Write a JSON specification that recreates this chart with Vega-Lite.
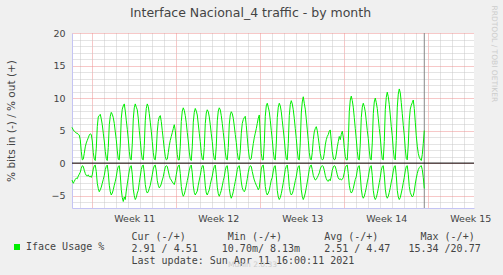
{
"$schema": "https://vega.github.io/schema/vega-lite/v6.json",
"width": 402, "height": 175,
"autosize": "none",
"padding": {"left": 72, "top": 33, "right": 29, "bottom": 67},
"background": "#f0f0f0",
"config": {"view": {"fill": "#ffffff", "stroke": null}, "font": "DejaVu Sans"},
"title": {"text": "Interface Nacional_4 traffic - by month", "font": "DejaVu Sans", "fontSize": 12.5, "fontWeight": "normal", "color": "#444444", "anchor": "middle", "frame": "group", "dx": -22.5, "baseline": "alphabetic", "offset": -24.6},
"datasets": {"traffic": [
{"d":-1.69,"o":5.5,"i":-2.6},{"d":-1.583,"o":5.1,"i":-3.1},{"d":-1.5,"o":4.9,"i":-2.8},{"d":-1.417,"o":4.8,"i":-2.5},{"d":-1.333,"o":4.6,"i":-2.3},{"d":-1.25,"o":4.6,"i":-2.4},{"d":-1.167,"o":4.4,"i":-2.0},{"d":-1.083,"o":4.3,"i":-1.7},
{"d":-1.0,"o":3.6,"i":-1.4},{"d":-0.917,"o":1.8,"i":-0.8},{"d":-0.833,"o":0.5,"i":-0.4},{"d":-0.75,"o":0.6,"i":-0.5},{"d":-0.667,"o":1.5,"i":-1.1},{"d":-0.583,"o":2.5,"i":-1.6},{"d":-0.5,"o":3.1,"i":-1.9},{"d":-0.417,"o":3.5,"i":-2.0},{"d":-0.333,"o":3.9,"i":-1.8},{"d":-0.25,"o":4.3,"i":-2.1},{"d":-0.167,"o":4.5,"i":-2.0},{"d":-0.083,"o":4.4,"i":-2.2},
{"d":0.0,"o":3.4,"i":-1.8},{"d":0.083,"o":1.6,"i":-0.9},{"d":0.167,"o":0.6,"i":-0.4},{"d":0.25,"o":0.4,"i":-0.3},{"d":0.333,"o":2.3,"i":-1.3},{"d":0.417,"o":5.6,"i":-3.1},{"d":0.5,"o":7.1,"i":-3.9},{"d":0.583,"o":7.3,"i":-4.4},{"d":0.667,"o":7.5,"i":-4.1},{"d":0.75,"o":6.8,"i":-3.7},{"d":0.833,"o":5.9,"i":-3.1},{"d":0.917,"o":4.6,"i":-2.5},
{"d":1.0,"o":3.4,"i":-1.9},{"d":1.083,"o":1.8,"i":-1.0},{"d":1.167,"o":0.7,"i":-0.5},{"d":1.25,"o":0.4,"i":-0.3},{"d":1.333,"o":2.4,"i":-1.5},{"d":1.417,"o":5.9,"i":-3.4},{"d":1.5,"o":7.2,"i":-4.4},{"d":1.583,"o":7.8,"i":-4.9},{"d":1.667,"o":7.5,"i":-4.6},{"d":1.75,"o":7.0,"i":-4.1},{"d":1.833,"o":6.1,"i":-3.4},{"d":1.917,"o":4.8,"i":-2.8},
{"d":2.0,"o":3.6,"i":-2.1},{"d":2.083,"o":1.9,"i":-1.1},{"d":2.167,"o":0.6,"i":-0.5},{"d":2.25,"o":0.5,"i":-0.4},{"d":2.333,"o":2.8,"i":-1.8},{"d":2.417,"o":6.9,"i":-4.1},{"d":2.5,"o":8.3,"i":-5.3},{"d":2.583,"o":8.8,"i":-5.9},{"d":2.667,"o":9.1,"i":-5.2},{"d":2.75,"o":8.0,"i":-5.6},{"d":2.833,"o":6.6,"i":-4.3},{"d":2.917,"o":5.2,"i":-3.2},
{"d":3.0,"o":3.7,"i":-2.2},{"d":3.083,"o":1.8,"i":-1.2},{"d":3.167,"o":0.6,"i":-0.5},{"d":3.25,"o":0.5,"i":-0.4},{"d":3.333,"o":2.9,"i":-1.7},{"d":3.417,"o":6.8,"i":-4.0},{"d":3.5,"o":8.5,"i":-5.0},{"d":3.583,"o":9.1,"i":-5.6},{"d":3.667,"o":8.6,"i":-5.3},{"d":3.75,"o":8.2,"i":-4.6},{"d":3.833,"o":6.9,"i":-4.2},{"d":3.917,"o":5.0,"i":-3.0},
{"d":4.0,"o":3.5,"i":-2.0},{"d":4.083,"o":1.7,"i":-1.0},{"d":4.167,"o":0.6,"i":-0.4},{"d":4.25,"o":0.5,"i":-0.3},{"d":4.333,"o":2.7,"i":-1.5},{"d":4.417,"o":6.6,"i":-3.3},{"d":4.5,"o":8.4,"i":-4.2},{"d":4.583,"o":9.1,"i":-4.6},{"d":4.667,"o":8.7,"i":-4.4},{"d":4.75,"o":7.6,"i":-3.9},{"d":4.833,"o":6.3,"i":-3.4},{"d":4.917,"o":4.9,"i":-2.6},
{"d":5.0,"o":3.3,"i":-1.8},{"d":5.083,"o":1.6,"i":-0.9},{"d":5.167,"o":0.6,"i":-0.4},{"d":5.25,"o":0.5,"i":-0.3},{"d":5.333,"o":2.0,"i":-1.2},{"d":5.417,"o":4.9,"i":-2.7},{"d":5.5,"o":6.4,"i":-3.4},{"d":5.583,"o":7.1,"i":-3.8},{"d":5.667,"o":7.3,"i":-3.6},{"d":5.75,"o":6.4,"i":-3.2},{"d":5.833,"o":5.0,"i":-2.6},{"d":5.917,"o":3.6,"i":-2.1},
{"d":6.0,"o":2.2,"i":-1.3},{"d":6.083,"o":1.0,"i":-0.6},{"d":6.167,"o":0.5,"i":-0.4},{"d":6.25,"o":0.6,"i":-0.5},{"d":6.333,"o":1.6,"i":-1.2},{"d":6.417,"o":2.7,"i":-1.9},{"d":6.5,"o":3.5,"i":-2.4},{"d":6.583,"o":4.1,"i":-2.6},{"d":6.667,"o":4.7,"i":-2.9},{"d":6.75,"o":5.3,"i":-3.1},{"d":6.833,"o":5.9,"i":-3.3},{"d":6.917,"o":5.0,"i":-2.7},
{"d":7.0,"o":3.0,"i":-1.8},{"d":7.083,"o":1.3,"i":-0.9},{"d":7.167,"o":0.5,"i":-0.4},{"d":7.25,"o":0.5,"i":-0.3},{"d":7.333,"o":2.6,"i":-1.6},{"d":7.417,"o":6.4,"i":-3.6},{"d":7.5,"o":8.0,"i":-4.6},{"d":7.583,"o":8.5,"i":-5.1},{"d":7.667,"o":8.1,"i":-4.8},{"d":7.75,"o":7.3,"i":-4.2},{"d":7.833,"o":6.2,"i":-3.5},{"d":7.917,"o":4.7,"i":-2.7},
{"d":8.0,"o":3.4,"i":-2.0},{"d":8.083,"o":1.7,"i":-1.1},{"d":8.167,"o":0.6,"i":-0.5},{"d":8.25,"o":0.4,"i":-0.3},{"d":8.333,"o":2.5,"i":-1.5},{"d":8.417,"o":6.3,"i":-3.5},{"d":8.5,"o":7.8,"i":-4.5},{"d":8.583,"o":8.4,"i":-4.9},{"d":8.667,"o":8.0,"i":-4.6},{"d":8.75,"o":7.4,"i":-4.3},{"d":8.833,"o":6.0,"i":-3.4},{"d":8.917,"o":4.6,"i":-2.6},
{"d":9.0,"o":3.3,"i":-1.9},{"d":9.083,"o":1.6,"i":-1.0},{"d":9.167,"o":0.6,"i":-0.4},{"d":9.25,"o":0.5,"i":-0.4},{"d":9.333,"o":2.4,"i":-1.6},{"d":9.417,"o":6.1,"i":-3.5},{"d":9.5,"o":7.7,"i":-4.6},{"d":9.583,"o":8.2,"i":-4.9},{"d":9.667,"o":7.9,"i":-4.5},{"d":9.75,"o":7.1,"i":-4.1},{"d":9.833,"o":5.9,"i":-3.3},{"d":9.917,"o":4.5,"i":-2.6},
{"d":10.0,"o":3.3,"i":-2.0},{"d":10.083,"o":1.6,"i":-1.1},{"d":10.167,"o":0.6,"i":-0.5},{"d":10.25,"o":0.5,"i":-0.3},{"d":10.333,"o":2.6,"i":-1.7},{"d":10.417,"o":6.5,"i":-3.7},{"d":10.5,"o":8.0,"i":-4.7},{"d":10.583,"o":8.5,"i":-5.1},{"d":10.667,"o":8.2,"i":-4.7},{"d":10.75,"o":7.3,"i":-4.2},{"d":10.833,"o":6.1,"i":-3.5},{"d":10.917,"o":4.7,"i":-2.7},
{"d":11.0,"o":3.4,"i":-2.1},{"d":11.083,"o":1.7,"i":-1.1},{"d":11.167,"o":0.6,"i":-0.5},{"d":11.25,"o":0.5,"i":-0.4},{"d":11.333,"o":2.4,"i":-1.7},{"d":11.417,"o":6.0,"i":-3.9},{"d":11.5,"o":7.4,"i":-4.9},{"d":11.583,"o":7.9,"i":-5.4},{"d":11.667,"o":7.6,"i":-5.0},{"d":11.75,"o":6.9,"i":-4.4},{"d":11.833,"o":5.7,"i":-3.6},{"d":11.917,"o":4.4,"i":-2.8},
{"d":12.0,"o":3.2,"i":-2.0},{"d":12.083,"o":1.6,"i":-1.0},{"d":12.167,"o":0.6,"i":-0.5},{"d":12.25,"o":0.5,"i":-0.4},{"d":12.333,"o":1.9,"i":-1.4},{"d":12.417,"o":4.6,"i":-2.9},{"d":12.5,"o":6.1,"i":-3.8},{"d":12.583,"o":6.7,"i":-4.2},{"d":12.667,"o":7.0,"i":-4.4},{"d":12.75,"o":7.2,"i":-4.1},{"d":12.833,"o":5.8,"i":-3.3},{"d":12.917,"o":3.9,"i":-2.4},
{"d":13.0,"o":2.2,"i":-1.4},{"d":13.083,"o":0.9,"i":-0.7},{"d":13.167,"o":0.5,"i":-0.4},{"d":13.25,"o":0.7,"i":-0.5},{"d":13.333,"o":1.9,"i":-1.3},{"d":13.417,"o":3.0,"i":-2.0},{"d":13.5,"o":3.9,"i":-2.6},{"d":13.583,"o":4.6,"i":-3.0},{"d":13.667,"o":5.3,"i":-3.4},{"d":13.75,"o":6.1,"i":-3.7},{"d":13.833,"o":6.9,"i":-4.1},{"d":13.917,"o":7.4,"i":-3.8},
{"d":14.0,"o":4.5,"i":-2.4},{"d":14.083,"o":1.5,"i":-0.9},{"d":14.167,"o":0.5,"i":-0.4},{"d":14.25,"o":0.5,"i":-0.3},{"d":14.333,"o":3.0,"i":-1.7},{"d":14.417,"o":7.2,"i":-3.6},{"d":14.5,"o":8.8,"i":-4.5},{"d":14.583,"o":9.2,"i":-4.9},{"d":14.667,"o":8.6,"i":-4.6},{"d":14.75,"o":7.9,"i":-4.2},{"d":14.833,"o":6.6,"i":-3.4},{"d":14.917,"o":5.0,"i":-2.6},
{"d":15.0,"o":3.6,"i":-2.2},{"d":15.083,"o":1.8,"i":-1.2},{"d":15.167,"o":0.6,"i":-0.5},{"d":15.25,"o":0.5,"i":-0.4},{"d":15.333,"o":2.9,"i":-1.9},{"d":15.417,"o":7.0,"i":-4.2},{"d":15.5,"o":8.6,"i":-5.2},{"d":15.583,"o":9.2,"i":-5.6},{"d":15.667,"o":8.8,"i":-5.3},{"d":15.75,"o":7.9,"i":-4.7},{"d":15.833,"o":6.5,"i":-3.9},{"d":15.917,"o":5.1,"i":-3.0},
{"d":16.0,"o":3.7,"i":-2.0},{"d":16.083,"o":1.9,"i":-1.0},{"d":16.167,"o":0.6,"i":-0.5},{"d":16.25,"o":0.5,"i":-0.3},{"d":16.333,"o":3.0,"i":-1.6},{"d":16.417,"o":7.3,"i":-3.6},{"d":16.5,"o":9.0,"i":-4.5},{"d":16.583,"o":9.6,"i":-4.9},{"d":16.667,"o":9.1,"i":-4.7},{"d":16.75,"o":8.2,"i":-4.2},{"d":16.833,"o":6.9,"i":-3.5},{"d":16.917,"o":5.3,"i":-2.7},
{"d":17.0,"o":3.8,"i":-2.1},{"d":17.083,"o":1.9,"i":-1.1},{"d":17.167,"o":0.6,"i":-0.5},{"d":17.25,"o":0.5,"i":-0.4},{"d":17.333,"o":3.1,"i":-1.9},{"d":17.417,"o":7.7,"i":-4.1},{"d":17.5,"o":9.4,"i":-5.1},{"d":17.583,"o":10.2,"i":-5.6},{"d":17.667,"o":9.2,"i":-5.2},{"d":17.75,"o":8.3,"i":-4.6},{"d":17.833,"o":6.8,"i":-3.8},{"d":17.917,"o":5.1,"i":-2.9},
{"d":18.0,"o":3.5,"i":-2.0},{"d":18.083,"o":1.6,"i":-1.0},{"d":18.167,"o":0.6,"i":-0.4},{"d":18.25,"o":0.5,"i":-0.3},{"d":18.333,"o":1.6,"i":-1.0},{"d":18.417,"o":3.6,"i":-1.9},{"d":18.5,"o":4.8,"i":-2.3},{"d":18.583,"o":5.3,"i":-2.6},{"d":18.667,"o":5.6,"i":-2.5},{"d":18.75,"o":5.0,"i":-2.2},{"d":18.833,"o":3.9,"i":-1.9},{"d":18.917,"o":2.7,"i":-1.5},
{"d":19.0,"o":1.5,"i":-0.9},{"d":19.083,"o":0.7,"i":-0.5},{"d":19.167,"o":0.5,"i":-0.4},{"d":19.25,"o":0.6,"i":-0.5},{"d":19.333,"o":1.5,"i":-1.1},{"d":19.417,"o":2.8,"i":-1.9},{"d":19.5,"o":3.6,"i":-2.4},{"d":19.583,"o":4.1,"i":-2.7},{"d":19.667,"o":4.4,"i":-2.8},{"d":19.75,"o":4.9,"i":-2.5},{"d":19.833,"o":5.1,"i":-2.7},{"d":19.917,"o":3.4,"i":-2.0},
{"d":20.0,"o":1.8,"i":-1.1},{"d":20.083,"o":0.8,"i":-0.6},{"d":20.167,"o":0.5,"i":-0.4},{"d":20.25,"o":0.6,"i":-0.5},{"d":20.333,"o":1.4,"i":-1.1},{"d":20.417,"o":2.5,"i":-1.8},{"d":20.5,"o":3.3,"i":-2.3},{"d":20.583,"o":4.1,"i":-2.5},{"d":20.667,"o":3.6,"i":-2.4},{"d":20.75,"o":4.4,"i":-2.6},{"d":20.833,"o":4.9,"i":-2.5},{"d":20.917,"o":4.0,"i":-2.2},
{"d":21.0,"o":2.4,"i":-1.5},{"d":21.083,"o":1.0,"i":-0.7},{"d":21.167,"o":0.5,"i":-0.4},{"d":21.25,"o":0.5,"i":-0.3},{"d":21.333,"o":3.2,"i":-1.6},{"d":21.417,"o":7.9,"i":-3.4},{"d":21.5,"o":9.7,"i":-4.2},{"d":21.583,"o":10.3,"i":-4.6},{"d":21.667,"o":9.6,"i":-4.4},{"d":21.75,"o":8.6,"i":-3.9},{"d":21.833,"o":7.0,"i":-3.2},{"d":21.917,"o":5.3,"i":-2.5},
{"d":22.0,"o":3.7,"i":-2.1},{"d":22.083,"o":1.8,"i":-1.1},{"d":22.167,"o":0.6,"i":-0.5},{"d":22.25,"o":0.5,"i":-0.4},{"d":22.333,"o":2.9,"i":-1.8},{"d":22.417,"o":7.0,"i":-4.0},{"d":22.5,"o":8.6,"i":-5.0},{"d":22.583,"o":9.2,"i":-5.4},{"d":22.667,"o":8.7,"i":-5.1},{"d":22.75,"o":7.9,"i":-4.5},{"d":22.833,"o":6.5,"i":-3.8},{"d":22.917,"o":5.0,"i":-2.9},
{"d":23.0,"o":3.8,"i":-2.2},{"d":23.083,"o":1.9,"i":-1.2},{"d":23.167,"o":0.6,"i":-0.5},{"d":23.25,"o":0.5,"i":-0.4},{"d":23.333,"o":3.1,"i":-1.9},{"d":23.417,"o":7.6,"i":-4.2},{"d":23.5,"o":9.4,"i":-5.2},{"d":23.583,"o":10.0,"i":-5.6},{"d":23.667,"o":9.3,"i":-5.3},{"d":23.75,"o":8.4,"i":-4.7},{"d":23.833,"o":6.9,"i":-3.9},{"d":23.917,"o":5.3,"i":-3.0},
{"d":24.0,"o":4.0,"i":-2.2},{"d":24.083,"o":2.0,"i":-1.1},{"d":24.167,"o":0.6,"i":-0.5},{"d":24.25,"o":0.5,"i":-0.4},{"d":24.333,"o":3.3,"i":-1.8},{"d":24.417,"o":8.2,"i":-4.0},{"d":24.5,"o":10.1,"i":-5.0},{"d":24.583,"o":10.9,"i":-5.4},{"d":24.667,"o":10.2,"i":-5.1},{"d":24.75,"o":9.0,"i":-4.5},{"d":24.833,"o":7.4,"i":-3.8},{"d":24.917,"o":5.6,"i":-2.9},
{"d":25.0,"o":4.2,"i":-2.2},{"d":25.083,"o":2.1,"i":-1.2},{"d":25.167,"o":0.7,"i":-0.5},{"d":25.25,"o":0.5,"i":-0.4},{"d":25.333,"o":3.5,"i":-1.9},{"d":25.417,"o":8.6,"i":-4.2},{"d":25.5,"o":10.6,"i":-5.2},{"d":25.583,"o":11.4,"i":-5.6},{"d":25.667,"o":10.8,"i":-5.3},{"d":25.75,"o":9.3,"i":-4.6},{"d":25.833,"o":7.6,"i":-3.9},{"d":25.917,"o":5.8,"i":-3.0},
{"d":26.0,"o":4.3,"i":-2.2},{"d":26.083,"o":2.2,"i":-1.2},{"d":26.167,"o":0.7,"i":-0.5},{"d":26.25,"o":0.5,"i":-0.4},{"d":26.333,"o":2.8,"i":-1.7},{"d":26.417,"o":6.6,"i":-3.6},{"d":26.5,"o":8.3,"i":-4.5},{"d":26.583,"o":8.9,"i":-4.9},{"d":26.667,"o":9.3,"i":-5.2},{"d":26.75,"o":9.7,"i":-5.0},{"d":26.833,"o":8.4,"i":-4.3},{"d":26.917,"o":6.3,"i":-3.2},
{"d":27.0,"o":4.2,"i":-2.3},{"d":27.083,"o":2.6,"i":-1.6},{"d":27.167,"o":1.5,"i":-1.0},{"d":27.25,"o":0.9,"i":-0.7},{"d":27.333,"o":0.6,"i":-0.5},{"d":27.417,"o":0.4,"i":-0.4},{"d":27.5,"o":1.3,"i":-1.0},{"d":27.583,"o":3.0,"i":-2.2},{"d":27.667,"o":5.0,"i":-3.9}
]},
"data": {"name": "traffic"},
"resolve": {"axis": {"x": "independent", "y": "independent"}},
"layer": [
{
"data": {"values": [{"now": 27.667}]},
"mark": {"type": "rule", "color": "#888888", "strokeWidth": 1},
"encoding": {"x": {"field": "now", "type": "quantitative", "scale": {"domain": [-1.69, 31.81], "nice": false, "zero": false}, "axis": null}}
},
{
"mark": {"type": "line", "strokeWidth": 1, "interpolate": "linear"},
"encoding": {
"x": {"field": "d", "type": "quantitative", "scale": {"domain": [-1.69, 31.81], "nice": false, "zero": false},
"axis": {"orient": "bottom", "values": [-1,0,1,2,3,4,5,6,7,8,9,10,11,12,13,14,15,16,17,18,19,20,21,22,23,24,25,26,27,28,29,30,31,3.5,10.5,17.5,24.5,31.5],
"grid": true, "gridDash": [1,1], "gridWidth": 1,
"gridColor": {"condition": {"test": "datum.value % 7 === 0", "value": "#ee9090"}, "value": "#c8c8c8"},
"gridOpacity": {"condition": {"test": "datum.value % 1 !== 0", "value": 0}, "value": 1},
"ticks": false, "domain": true, "domainColor": "#c4c4f4", "domainWidth": 1,
"labelExpr": "(datum.value - 3.5) % 7 === 0 ? 'Week ' + (11 + (datum.value - 3.5) / 7) : ''",
"labelFont": "DejaVu Sans", "labelFontSize": 9.5, "labelColor": "#444444", "labelPadding": 5, "labelOverlap": false, "labelBound": false, "labelFlush": false,
"title": ["\u00a0Cur (-/+)\u00a0\u00a0\u00a0\u00a0\u00a0\u00a0\u00a0Min (-/+)\u00a0\u00a0\u00a0\u00a0\u00a0\u00a0\u00a0Avg (-/+)\u00a0\u00a0\u00a0\u00a0\u00a0\u00a0\u00a0Max (-/+)", "2.91 / 4.51\u00a0\u00a0\u00a0\u00a010.70m/ 8.13m\u00a0\u00a0\u00a0\u00a02.51 / 4.47\u00a0\u00a0\u00a015.34 /20.77", "\u00a0\u00a0\u00a0\u00a0\u00a0\u00a0\u00a0\u00a0\u00a0\u00a0\u00a0\u00a0\u00a0\u00a0\u00a0\u00a0\u00a0\u00a0\u00a0\u00a0\u00a0\u00a0\u00a0Last update: Sun Apr 11 16:00:11 2021"],
"titleFont": "DejaVu Sans Mono", "titleFontSize": 10, "titleFontWeight": "normal", "titleColor": "#444444",
"titleAnchor": "start", "titleAlign": "left", "titleBaseline": "alphabetic", "titleX": 59, "titleY": 31.2, "titleLineHeight": 12.1}},
"y": {"field": "o", "type": "quantitative", "scale": {"domain": [-6.9, 20], "nice": false, "zero": false},
"axis": {"orient": "left", "values": [-6,-5,-4,-3,-2,-1,0,1,2,3,4,5,6,7,8,9,10,11,12,13,14,15,16,17,18,19,20],
"grid": true, "gridDash": [1,1], "gridWidth": 1,
"gridColor": {"condition": {"test": "datum.value % 5 === 0", "value": "#ee9090"}, "value": "#c8c8c8"},
"ticks": false, "domain": true, "domainColor": "#c4c4f4", "domainWidth": 1,
"labelExpr": "datum.value % 5 === 0 ? datum.label : ''",
"labelFont": "DejaVu Sans", "labelFontSize": 9.5, "labelColor": "#444444", "labelPadding": 7, "labelOverlap": false, "labelBound": false, "labelFlush": false,
"title": "% bits in (-) / % out (+)", "titleFont": "DejaVu Sans", "titleFontSize": 10.5, "titleFontWeight": "normal", "titleColor": "#444444",
"titleAngle": 270, "titleAlign": "center", "titleBaseline": "middle", "titleX": -61, "titleY": 87.5}},
"color": {"datum": "Iface Usage %", "type": "nominal", "scale": {"range": ["#00ee00"]},
"legend": {"orient": "none", "legendX": -60, "legendY": 209, "title": null, "padding": 0, "symbolType": "square", "symbolSize": 9, "symbolStrokeWidth": 3, "symbolFillColor": "#00ee00", "symbolStrokeColor": "#00ee00", "labelFont": "DejaVu Sans Mono", "labelFontSize": 10, "labelColor": "#444444", "labelOffset": 4}}
}
},
{
"mark": {"type": "line", "strokeWidth": 1, "interpolate": "linear"},
"encoding": {
"x": {"field": "d", "type": "quantitative", "scale": {"domain": [-1.69, 31.81], "nice": false, "zero": false},
"axis": {"orient": "top", "grid": false, "ticks": false, "labels": false, "domain": false,
"title": "Munin 2.0.33", "titleFont": "DejaVu Sans", "titleFontSize": 7.5, "titleFontWeight": "normal", "titleColor": "#cccccc",
"titleAnchor": "start", "titleAlign": "center", "titleBaseline": "middle", "titleX": 180, "titleY": 231.2, "titleAngle": 0}},
"y": {"field": "i", "type": "quantitative", "scale": {"domain": [-6.9, 20], "nice": false, "zero": false},
"axis": {"orient": "right", "grid": false, "ticks": false, "labels": false, "domain": false,
"title": "RRDTOOL / TOBI OETIKER", "titleFont": "DejaVu Sans", "titleFontSize": 7.5, "titleFontWeight": "normal", "titleColor": "#cccccc",
"titleAngle": 90, "titleAlign": "left", "titleBaseline": "middle", "titleX": 19, "titleY": -28}},
"color": {"datum": "Iface Usage %", "type": "nominal", "scale": {"range": ["#00ee00"]}}
}
},
{
"data": {"values": [{"zero": 0}]},
"mark": {"type": "rule", "color": "#000000", "strokeWidth": 1},
"encoding": {"y": {"field": "zero", "type": "quantitative", "scale": {"domain": [-6.9, 20], "nice": false, "zero": false}, "axis": null}}
}
]
}
